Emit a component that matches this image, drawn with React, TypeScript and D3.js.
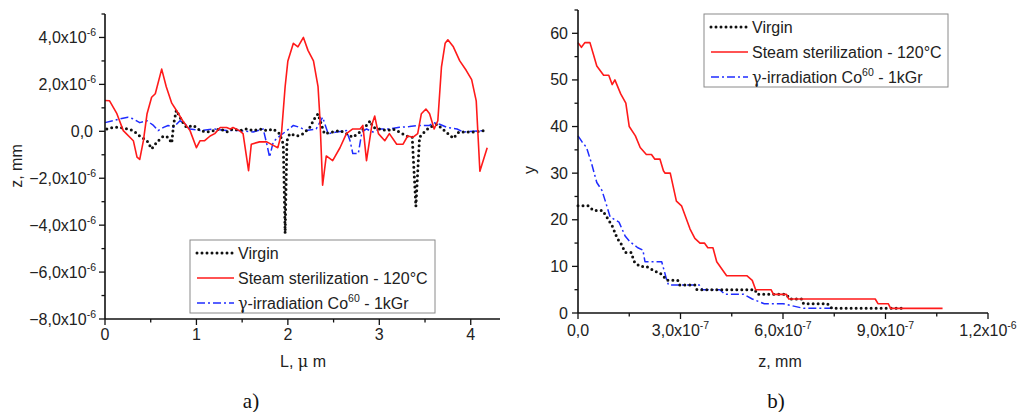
import React from "react";
import * as d3 from "d3";

// chart a) profile, L in µm, z in 1e-6 mm
const virginA: [number, number][] = [
  [0.02, 0.1], [0.09, 0.17], [0.16, 0.17], [0.24, 0.1], [0.31, 0.03], [0.38, -0.2], [0.46, -0.4],
  [0.51, -0.75], [0.57, -0.45], [0.64, -0.2], [0.69, -0.25], [0.73, -0.5], [0.75, 0.3], [0.78, 0.9],
  [0.84, 0.45], [0.89, 0.17], [0.97, 0.25], [1.04, 0.03], [1.11, -0.03], [1.19, 0.03], [1.26, 0.1],
  [1.33, -0.03], [1.4, 0.1], [1.47, 0.03], [1.55, 0.1], [1.62, 0.03], [1.69, 0.1], [1.77, 0.03],
  [1.84, 0.1], [1.91, -0.1], [1.95, -0.55], [1.97, -4.35], [1.99, -0.4], [2.02, -0.1], [2.1, -0.2],
  [2.17, -0.1], [2.24, 0.17], [2.3, 0.6], [2.33, 0.75], [2.37, 0.25], [2.4, -0.1], [2.49, -0.03],
  [2.57, 0.03], [2.64, -0.1], [2.71, -0.25], [2.79, -0.03], [2.86, 0.25], [2.9, 0.45], [2.93, 0.17],
  [3.0, 0.1], [3.08, 0.03], [3.15, 0.1], [3.22, -0.03], [3.3, -0.2], [3.36, -0.25], [3.4, -3.2],
  [3.44, -0.25], [3.5, 0.0], [3.55, 0.17], [3.63, 0.3], [3.69, 0.1], [3.75, -0.1], [3.81, -0.3],
  [3.87, -0.03], [3.95, -0.03], [4.05, -0.03], [4.15, 0.03],
];
const steamA: [number, number][] = [
  [0.0, 1.31], [0.05, 1.3], [0.13, 0.75], [0.2, 0.03], [0.31, -0.4], [0.35, -1.1], [0.38, -1.2],
  [0.42, -0.4], [0.46, 0.75], [0.51, 1.45], [0.55, 1.6], [0.62, 2.65], [0.67, 1.9], [0.73, 1.2],
  [0.78, 0.9], [0.85, 0.45], [0.93, 0.03], [1.0, -0.7], [1.04, -0.4], [1.09, -0.4], [1.15, -0.2],
  [1.2, -0.1], [1.26, 0.16], [1.33, 0.16], [1.37, 0.1], [1.4, 0.16], [1.47, 0.03], [1.51, -0.1],
  [1.57, -1.68], [1.6, -0.55], [1.69, -0.45], [1.77, -0.45], [1.84, -0.6], [1.89, -0.7], [1.93, -0.1],
  [1.97, 1.9], [2.0, 3.0], [2.06, 3.75], [2.11, 3.6], [2.17, 4.0], [2.22, 3.45], [2.28, 3.0],
  [2.33, 1.9], [2.35, 0.6], [2.38, -2.3], [2.42, -1.05], [2.49, -1.25], [2.57, -0.7], [2.64, -0.1],
  [2.71, 0.1], [2.79, 0.1], [2.82, 0.25], [2.86, -1.25], [2.92, 0.3], [2.95, 0.65], [2.99, -0.1],
  [3.06, -0.4], [3.11, -0.1], [3.19, -0.55], [3.26, -0.55], [3.31, -0.2], [3.37, -0.25], [3.42, -0.1],
  [3.46, 0.75], [3.51, 0.95], [3.55, 0.75], [3.6, 0.1], [3.64, 0.45], [3.68, 2.75], [3.72, 3.75],
  [3.75, 3.9], [3.81, 3.6], [3.88, 3.0], [3.95, 2.6], [4.01, 2.2], [4.06, 1.3], [4.1, -1.7], [4.18, -0.7],
];
const gammaA: [number, number][] = [
  [0.0, 0.37], [0.09, 0.45], [0.16, 0.53], [0.25, 0.6], [0.31, 0.53], [0.38, 0.37], [0.46, 0.45],
  [0.53, 0.25], [0.58, 0.03], [0.64, 0.17], [0.69, 0.25], [0.75, 0.17], [0.82, 0.45], [0.88, 0.3],
  [0.93, 0.1], [1.04, 0.03], [1.19, 0.1], [1.33, 0.03], [1.47, 0.03], [1.62, -0.03], [1.73, 0.1],
  [1.77, -0.55], [1.8, -1.1], [1.84, -0.45], [1.91, -0.2], [1.99, 0.03], [2.06, 0.25], [2.13, 0.17],
  [2.2, 0.03], [2.31, 0.1], [2.38, 0.6], [2.44, -0.1], [2.53, -0.03], [2.64, 0.03], [2.68, -0.4],
  [2.71, -0.95], [2.77, -0.95], [2.81, -0.03], [2.86, 0.1], [2.93, -0.03], [3.0, 0.1], [3.11, 0.1],
  [3.22, 0.17], [3.33, 0.2], [3.44, 0.25], [3.55, 0.25], [3.59, 0.37], [3.66, 0.3], [3.74, 0.17],
  [3.85, 0.1], [3.92, -0.03], [4.03, 0.0], [4.15, 0.03],
];

// chart b) distribution, z in 1e-7 mm, y count
const virginB: [number, number][] = [
  [0, 23], [0.3, 23], [0.45, 22], [0.72, 22], [0.85, 20.5], [1.0, 18.7], [1.15, 16], [1.25, 15],
  [1.38, 13], [1.55, 13], [1.65, 11], [1.8, 10], [2.0, 10], [2.25, 9], [2.45, 8.3], [2.6, 7],
  [2.92, 7], [2.98, 6], [3.42, 6], [3.48, 5], [5.18, 5], [5.24, 4], [6.1, 4], [6.2, 3], [6.55, 3],
  [6.6, 2], [7.3, 2], [7.43, 1], [9.6, 1],
];
const steamB: [number, number][] = [
  [0, 58], [0.1, 57], [0.2, 58], [0.35, 58], [0.45, 55.5], [0.55, 53], [0.75, 51], [0.9, 51],
  [1.0, 49], [1.08, 50], [1.25, 47], [1.4, 45], [1.5, 40], [1.68, 38], [1.82, 35.5], [2.0, 34],
  [2.15, 34], [2.25, 33], [2.4, 33], [2.5, 30.5], [2.55, 30], [2.7, 30], [2.88, 24], [3.03, 23],
  [3.28, 18], [3.42, 16], [3.57, 15], [3.7, 15], [3.8, 14], [3.95, 14], [4.06, 11], [4.35, 8],
  [4.94, 8], [5.1, 7], [5.2, 5], [5.65, 5], [5.72, 4], [6.1, 4], [6.17, 3], [8.7, 3], [8.78, 2],
  [9.08, 2], [9.15, 1], [10.67, 1],
];
const gammaB: [number, number][] = [
  [0, 38], [0.12, 36.7], [0.25, 35.5], [0.4, 32], [0.55, 28], [0.7, 26.3], [0.8, 24], [0.94, 20.6],
  [1.2, 19.5], [1.38, 16.5], [1.52, 15.3], [1.75, 14], [1.9, 13.5], [1.96, 11], [2.45, 11], [2.6, 7],
  [2.65, 6], [3.55, 6], [3.65, 5], [4.15, 5], [4.3, 4], [4.85, 4], [5.1, 3], [5.45, 2], [6.0, 2],
  [6.6, 1], [7.5, 1],
];

const aXTicks = [0, 1, 2, 3, 4];
const aXMinor = [0.5, 1.5, 2.5, 3.5];
const aYTicks = [-8, -6, -4, -2, 0, 2, 4];
const aYMinor = [-7, -5, -3, -1, 1, 3, 5];
const bXTicks = [0, 3, 6, 9, 12];
const bXMinor = [1.5, 4.5, 7.5, 10.5];
const bYTicks = [0, 10, 20, 30, 40, 50, 60];
const bYMinor = [5, 15, 25, 35, 45, 55, 65];

const legendNames = ["Virgin", "Steam sterilization - 120\u00B0C", "irradiation"];

const FONT = "'Liberation Sans', Arial, sans-serif";
const FS = 16;

const styles = [
  { stroke: "#111", width: 3, dash: "0 5", cap: "round" as const },
  { stroke: "#ff1a1a", width: 1.6, dash: undefined, cap: "butt" as const },
  { stroke: "#1f2cff", width: 1.5, dash: "8 3 2 3", cap: "butt" as const },
];

function Sci({ x, y, base, exp, anchor }: { x: number; y: number; base: string; exp?: string; anchor: string }) {
  return (
    <text x={x} y={y} textAnchor={anchor} fontFamily={FONT} fontSize={FS} fill="#222">
      <tspan>{base}</tspan>
      {exp && (
        <tspan dy={-7} fontSize={10.5}>
          {exp}
        </tspan>
      )}
    </text>
  );
}

function Legend({ x, y, w, h }: { x: number; y: number; w: number; h: number }) {
  return (
    <g>
      <rect x={x} y={y} width={w} height={h} fill="white" stroke="#8a8a8a" strokeWidth={1} />
      {styles.map((s, i) => {
        const ly = y + 13 + i * 25;
        return (
          <g key={i}>
            <line x1={x + 7} x2={x + 44} y1={ly} y2={ly} stroke={s.stroke} strokeWidth={s.width}
              strokeDasharray={s.dash} strokeLinecap={s.cap} />
            <text x={x + 48} y={ly + 5.5} fontFamily={FONT} fontSize={FS} fill="#222">
              {i < 2 ? legendNames[i] : (
                <>
                  <tspan fontFamily="'DejaVu Serif', serif">{"\u03B3"}</tspan>
                  <tspan>{"-" + legendNames[2] + " Co"}</tspan>
                  <tspan dy={-7} fontSize={10.5}>60</tspan>
                  <tspan dy={7}>{" - 1kGr"}</tspan>
                </>
              )}
            </text>
          </g>
        );
      })}
    </g>
  );
}

export default function App() {
  const xA = d3.scaleLinear().domain([0, 4.32]).range([105, 500]);
  const yA = d3.scaleLinear().domain([-8, 5]).range([319, 14]);
  const xB = d3.scaleLinear().domain([0, 12]).range([578, 988]);
  const yB = d3.scaleLinear().domain([0, 65]).range([313, 10]);

  const lineA = d3.line<[number, number]>().x((d) => xA(d[0])).y((d) => yA(d[1]));
  const lineB = d3.line<[number, number]>().x((d) => xB(d[0])).y((d) => yB(d[1]));

  const seriesA = [virginA, steamA, gammaA];
  const seriesB = [virginB, steamB, gammaB];

  const [ax0, ax1] = xA.range();
  const [ay0, ay1] = yA.range();
  const [bx0, bx1] = xB.range();
  const [by0, by1] = yB.range();

  return (
    <svg width={1019} height={412} style={{ position: "absolute", left: 0, top: 0, background: "white" }}>
      {/* chart a */}
      {[2, 0, 1].map((i) => (
        <path key={"a" + i} d={lineA(seriesA[i]) || ""} fill="none" stroke={styles[i].stroke}
          strokeWidth={styles[i].width} strokeDasharray={styles[i].dash} strokeLinecap={styles[i].cap}
          strokeLinejoin="round" />
      ))}
      <line x1={ax0} x2={ax0} y1={ay0} y2={ay1} stroke="#111" strokeWidth={1.6} />
      <line x1={ax0} x2={ax1} y1={ay0} y2={ay0} stroke="#111" strokeWidth={1.6} />
      {aXTicks.map((t) => (
        <g key={"axt" + t}>
          <line x1={xA(t)} x2={xA(t)} y1={ay0} y2={ay0 + 6} stroke="#111" strokeWidth={1.3} />
          <Sci x={xA(t)} y={ay0 + 21} base={String(t)} anchor="middle" />
        </g>
      ))}
      {aXMinor.map((t) => (
        <line key={"axm" + t} x1={xA(t)} x2={xA(t)} y1={ay0} y2={ay0 + 3.5} stroke="#111" strokeWidth={1.3} />
      ))}
      {aYTicks.map((t) => (
        <g key={"ayt" + t}>
          <line x1={ax0 - 6} x2={ax0} y1={yA(t)} y2={yA(t)} stroke="#111" strokeWidth={1.3} />
          {t === 0 ? (
            <Sci x={ax0 - 12} y={yA(t) + 5.5} base="0,0" anchor="end" />
          ) : (
            <Sci x={ax0 - 9} y={yA(t) + 5.5} base={d3.format(".1f")(t).replace(".", ",") + "x10"} exp="-6" anchor="end" />
          )}
        </g>
      ))}
      {aYMinor.map((t) => (
        <line key={"aym" + t} x1={ax0 - 3.5} x2={ax0} y1={yA(t)} y2={yA(t)} stroke="#111" strokeWidth={1.3} />
      ))}
      <text x={303} y={367} textAnchor="middle" fontFamily={FONT} fontSize={FS} fill="#222">
        L,{"  "}<tspan fontFamily="'DejaVu Serif', serif">{"\u03BC"}</tspan> m
      </text>
      <text transform="translate(22,166) rotate(-90)" textAnchor="middle" fontFamily={FONT} fontSize={FS} fill="#222">
        z, mm
      </text>
      <Legend x={190} y={240} w={245} h={73} />
      <text x={251} y={408} textAnchor="middle" fontFamily="'Liberation Serif', 'Times New Roman', serif" fontSize={21} fill="#111">
        a)
      </text>

      {/* chart b */}
      {[2, 0, 1].map((i) => (
        <path key={"b" + i} d={lineB(seriesB[i]) || ""} fill="none" stroke={styles[i].stroke}
          strokeWidth={styles[i].width} strokeDasharray={styles[i].dash} strokeLinecap={styles[i].cap}
          strokeLinejoin="round" />
      ))}
      <line x1={bx0} x2={bx0} y1={by0} y2={by1} stroke="#111" strokeWidth={1.6} />
      <line x1={bx0} x2={bx1} y1={by0} y2={by0} stroke="#111" strokeWidth={1.6} />
      {bXTicks.map((t) => (
        <g key={"bxt" + t}>
          <line x1={xB(t)} x2={xB(t)} y1={by0} y2={by0 + 6} stroke="#111" strokeWidth={1.3} />
          {t === 0 ? (
            <Sci x={xB(t)} y={by0 + 23} base="0,0" anchor="middle" />
          ) : t === 12 ? (
            <Sci x={xB(t)} y={by0 + 23} base="1,2x10" exp="-6" anchor="middle" />
          ) : (
            <Sci x={xB(t)} y={by0 + 23} base={d3.format(".1f")(t).replace(".", ",") + "x10"} exp="-7" anchor="middle" />
          )}
        </g>
      ))}
      {bXMinor.map((t) => (
        <line key={"bxm" + t} x1={xB(t)} x2={xB(t)} y1={by0} y2={by0 + 3.5} stroke="#111" strokeWidth={1.3} />
      ))}
      {bYTicks.map((t) => (
        <g key={"byt" + t}>
          <line x1={bx0 - 6} x2={bx0} y1={yB(t)} y2={yB(t)} stroke="#111" strokeWidth={1.3} />
          <Sci x={bx0 - 10} y={yB(t) + 5.5} base={String(t)} anchor="end" />
        </g>
      ))}
      {bYMinor.map((t) => (
        <line key={"bym" + t} x1={bx0 - 3.5} x2={bx0} y1={yB(t)} y2={yB(t)} stroke="#111" strokeWidth={1.3} />
      ))}
      <text x={780} y={367} textAnchor="middle" fontFamily={FONT} fontSize={FS} fill="#222">
        z, mm
      </text>
      <text transform="translate(535,170) rotate(-90)" textAnchor="middle" fontFamily={FONT} fontSize={FS} fill="#222">
        y
      </text>
      <Legend x={704} y={14} w={244} h={73} />
      <text x={776} y={408} textAnchor="middle" fontFamily="'Liberation Serif', 'Times New Roman', serif" fontSize={21} fill="#111">
        b)
      </text>
    </svg>
  );
}
